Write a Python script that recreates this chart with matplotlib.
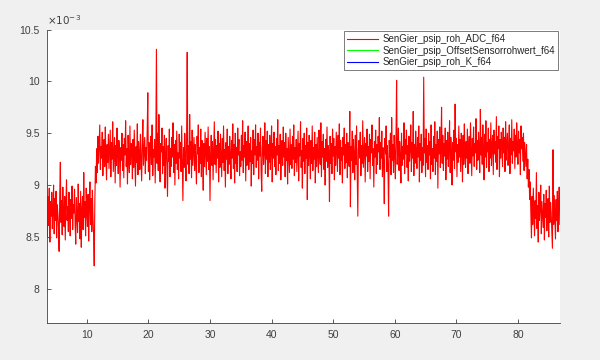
import numpy as np
import matplotlib.pyplot as plt
from matplotlib.ticker import FuncFormatter

plt.rcParams['font.family'] = ['Liberation Sans', 'DejaVu Sans']

# sampling of the recorded signal
t_start = 3.5
t_step = 0.1

# SenGier_psip_roh_ADC_f64, units of 1e-5
adc_raw = [
    # low level before the step
    902, 850, 889, 861, 897, 845, 884, 870, 893, 858, 877, 900, 853, 887, 866, 894, 849, 881, 872, 859,
    836, 890, 922, 864, 885, 852, 898, 871, 860, 889, 847, 883, 905, 866, 879, 855, 893, 874, 851, 886,
    868, 899, 857, 881, 873, 896, 862, 843, 888, 870, 854, 901, 865, 882, 848, 894, 840, 876, 889, 857,
    912, 869, 884, 851, 897, 873, 860, 891, 846, 880, 903, 862, 887, 855, 895, 868, 852, 822, 884,
    918, 902,
    # high level
    935, 912, 947, 921, 940, 958, 915, 937, 926, 951, 909, 932, 944, 918, 956, 927, 905, 939, 922, 949,
    916, 934, 953, 908, 941, 925, 961, 913, 930, 946, 902, 938, 919, 955, 928, 911, 943, 933, 898, 936,
    924, 950, 914, 939, 907, 945, 929, 962, 918, 935, 901, 948, 926, 912, 957, 920, 940, 931, 906, 944,
    917, 953, 928, 899, 937, 922, 959, 910, 942, 930, 915, 949, 925, 904, 938, 963, 919, 933, 946, 911,
    936, 924, 952, 989, 913, 941, 905, 930, 947, 920, 958, 909, 934, 927, 944, 902, 939, 1031, 921, 950,
    914, 968, 926, 903, 940, 932, 955, 911, 937, 919, 948, 897, 929, 945, 916, 889, 938, 923, 954, 908,
    935, 918, 946, 927, 960, 912, 939, 900, 943, 921, 952, 915, 931, 906, 949, 926, 941, 913, 957, 922,
    885, 936, 917, 950, 929, 904, 944, 1028, 920, 938, 911, 968, 925, 942, 907, 953, 919, 933, 946, 914,
    939, 924, 901, 947, 930, 958, 912, 936, 921, 954, 908, 943, 927, 895, 940, 918, 951, 932, 910, 945,
    923, 956, 915, 937, 885, 931, 948, 919, 942, 905, 935, 961, 920, 944, 912, 938, 926, 952, 903, 940,
    917, 949, 929, 908, 945, 922, 957, 914, 934, 898, 941, 925, 954, 911, 937, 920, 947, 930, 906, 943,
    926, 959, 916, 939, 902, 950, 921, 936, 913, 955, 929, 944, 909, 932, 918, 948, 924, 962, 912, 938,
    927, 951, 904, 942, 919, 935, 957, 915, 940, 923, 946, 899, 933, 921, 953, 910, 944, 929, 958, 917,
    937, 924, 950, 906, 941, 928, 955, 913, 894, 936, 947, 920, 931, 960, 911, 943, 925, 952, 908, 939,
    922, 948, 915, 934, 957, 903, 940, 926, 951, 918, 937, 910, 945, 929, 963, 914, 938, 921, 949, 905,
    932, 943, 919, 956, 927, 941, 908, 950, 924, 935, 901, 946, 930, 912, 954, 920, 939, 916, 947, 925,
    958, 909, 936, 922, 944, 913, 931, 952, 904, 940, 928, 961, 917, 933, 897, 945, 923, 950, 911, 938,
    926, 955, 886, 941, 919, 948, 930, 906, 943, 921, 957, 914, 936, 925, 951, 902, 939, 918, 946, 929,
    912, 953, 934, 920, 960, 908, 942, 927, 949, 915, 935, 900, 944, 923, 956, 917, 938, 931, 884, 947,
    921, 940, 911, 954, 928, 945, 905, 937, 919, 951, 932, 913, 948, 926, 959, 910, 943, 924, 936, 902,
    946, 929, 955, 916, 939, 922, 950, 907, 941, 933, 918, 971, 879, 937, 924, 952, 912, 944, 930, 905,
    948, 920, 957, 914, 870, 935, 943, 926, 951, 909, 938, 921, 962, 917, 932, 946, 903, 940, 928, 954,
    913, 937, 923, 949, 906, 944, 931, 958, 919, 935, 898, 942, 927, 953, 911, 939, 920, 947, 932, 965,
    915, 941, 926, 952, 908, 936, 922, 882, 945, 930, 957, 913, 938, 918, 870, 943, 927, 950, 910, 965,
    924, 939, 912, 948, 931, 906, 945, 1001, 920, 936, 955, 914, 942, 928, 902, 950, 919, 937, 925, 960,
    911, 944, 930, 953, 917, 938, 904, 947, 923, 935, 958, 913, 941, 926, 971, 909, 939, 921, 952, 932,
    916, 946, 927, 957, 903, 940, 924, 949, 912, 936, 919, 1004, 931, 945, 908, 954, 922, 938, 915, 950,
    929, 942, 906, 958, 920, 935, 913, 947, 926, 961, 910, 939, 923, 952, 897, 944, 930, 956, 917, 937,
    975, 921, 948, 914, 940, 928, 955, 905, 943, 925, 951, 918, 936, 962, 912, 946, 931, 900, 941, 924,
    953, 916, 978, 932, 945, 908, 939, 922, 957, 927, 944, 913, 950, 935, 903, 948, 920, 959, 930, 917,
    942, 926, 954, 911, 938, 947, 921, 960, 933, 909, 945, 928, 956, 918, 940, 931, 964, 915, 943, 924,
    951, 936, 912, 973, 929, 946, 920, 958, 934, 905, 949, 927, 962, 917, 941, 932, 955, 913, 944, 926,
    960, 919, 939, 948, 910, 953, 930, 942, 922, 966, 915, 947, 935, 957, 908, 944, 926, 951, 938, 918,
    955, 931, 946, 913, 961, 924, 940, 950, 919, 936, 958, 911, 945, 929, 963, 921, 942, 933, 954, 916,
    948, 927, 960, 938, 920, 952, 931, 944, 910, 957, 935, 946, 923, 950, 914, 941, 930, 918, 939, 906, 925,
    # drop back to low level
    898, 915, 886, 903, 872,
    849, 889, 862, 897, 874, 851, 885, 868, 912, 858, 880, 845, 893, 866, 877, 900, 853, 884, 871, 859,
    891, 847, 882, 869, 895, 856, 878, 887, 850, 899, 864, 883, 873, 857, 839, 934, 862, 890, 870, 848,
    886, 866, 894, 855, 879, 898, 862,
]

labels = ['SenGier_psip_roh_ADC_f64',
          'SenGier_psip_OffsetSensorrohwert_f64',
          'SenGier_psip_roh_K_f64']
colors = ['#ff0000', '#00ff00', '#0000ff']

adc = np.array(adc_raw) / 100.0  # in units of 1e-3
t = t_start + t_step * np.arange(len(adc))

fig = plt.figure(figsize=(6, 3.6), dpi=100, facecolor='#f0f0f0')
ax = fig.add_axes([0.078, 0.103, 0.855, 0.815])
ax.plot(t, adc, color=colors[0], lw=0.8, label=labels[0])
ax.plot([], [], color=colors[1], lw=0.8, label=labels[1])
ax.plot([], [], color=colors[2], lw=0.8, label=labels[2])

ax.set_xlim(3.5, 86.8)
ax.set_ylim(7.67, 10.5)
ax.set_xticks(np.arange(10, 81, 10))
ax.set_yticks([8, 8.5, 9, 9.5, 10, 10.5])
ax.yaxis.set_major_formatter(FuncFormatter(lambda v, p: '%g' % v))
ax.tick_params(direction='in', length=3, width=0.6, colors='#404040',
               labelsize=7.5, pad=5)
for s in ['top', 'right']:
    ax.spines[s].set_visible(False)
for s in ['left', 'bottom']:
    ax.spines[s].set_color('#404040')
    ax.spines[s].set_linewidth(0.6)

ax.text(0.0, 1.008, r'$\times10^{-3}$', transform=ax.transAxes,
        fontsize=7.5, color='#404040', ha='left', va='bottom')

leg = ax.legend(loc='upper right', fontsize=7, frameon=True, fancybox=False,
                handlelength=3.2, borderaxespad=0.2, labelspacing=0.15,
                borderpad=0.3, handletextpad=0.4)
leg.get_frame().set_edgecolor('#404040')
leg.get_frame().set_linewidth(0.6)
for txt in leg.get_texts():
    txt.set_color('#262626')

plt.savefig('out.png', dpi=100, facecolor=fig.get_facecolor())
